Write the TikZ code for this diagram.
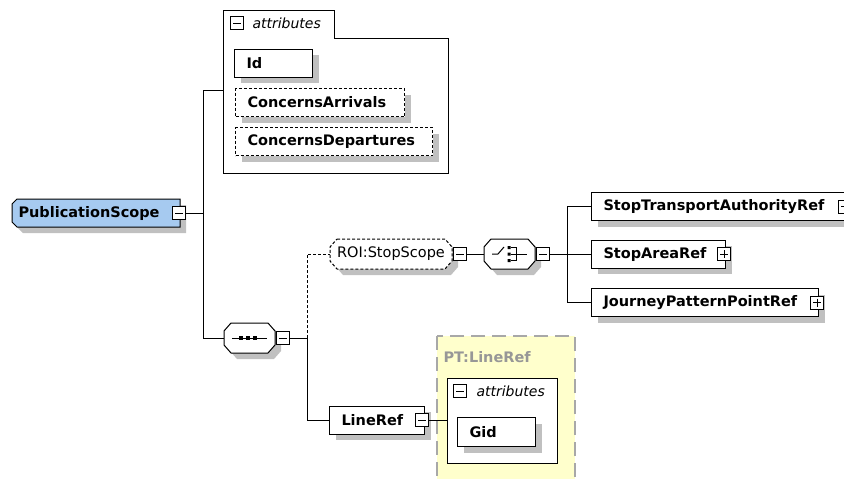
\documentclass[tikz,border=0pt]{standalone}
\usepackage{fontspec}
\setmainfont{DejaVu Sans}
\usetikzlibrary{shadows}
\definecolor{psblue}{HTML}{A6CAF0}
\definecolor{shadowgray}{HTML}{C0C0C0}
\definecolor{refyellow}{HTML}{FFFFCC}
\definecolor{refgray}{HTML}{A8A8A8}
\newcommand\boldlabel{\fontsize{14.5}{16}\selectfont\bfseries}
\newcommand\plainlabel{\fontsize{14.5}{16}\selectfont}
\newcommand\attrlabel{\fontsize{14}{16}\selectfont\itshape}
% octagon outline for compositors and groups: left, top, right, bottom
\newcommand\octpath[4]{(#1+7,#2) -- (#3-7,#2) -- (#3,#2+8) -- (#3,#4-8) -- (#3-7,#4) -- (#1+7,#4) -- (#1,#4-8) -- (#1,#2+8) -- cycle}
\begin{document}
\begin{tikzpicture}[x=1pt,y=-1pt,line width=1pt,
  shadowed/.style={drop shadow={shadow xshift=6pt,shadow yshift=-6pt,fill=shadowgray,opacity=1}},
  elem/.style={draw,fill=white,shadowed,minimum height=28pt,inner xsep=12pt,inner ysep=0pt,
    align=left,font=\boldlabel,anchor=west},
  optelem/.style={elem,dash pattern=on 3pt off 2pt},
  hole/.style={inner sep=0pt,minimum height=30pt},
  toggle/.style={draw,fill=white,minimum size=13pt,inner sep=0pt,line width=0.8pt},
  minusbox/.style={toggle,path picture={\draw[line width=0.8pt]
      ([xshift=2.5pt]path picture bounding box.west) -- ([xshift=-2.5pt]path picture bounding box.east);}},
  plusbox/.style={toggle,path picture={\draw[line width=0.8pt]
      ([xshift=2.5pt]path picture bounding box.west) -- ([xshift=-2.5pt]path picture bounding box.east)
      ([yshift=-2.5pt]path picture bounding box.north) -- ([yshift=2.5pt]path picture bounding box.south);}},
  tick/.style={fill=black}
]
\useasboundingbox (0,0) rectangle (844,479);
\fill[white] (0,0) rectangle (844,479);

% ---- root element ----
\fill[shadowgray,shift={(6,6)}] (17,199) -- (180,199) -- (180,227) -- (17,227) -- (12,222) -- (12,204) -- cycle;
\filldraw[fill=psblue] (17,199) -- (180,199) -- (180,227) -- (17,227) -- (12,222) -- (12,204) -- cycle;
\node[inner xsep=6pt,inner ysep=0pt,minimum height=28pt,text width=156pt,align=left,
  font=\boldlabel,anchor=west] (ps) at (12,213) {PublicationScope};
\node[minusbox] (psT) at (179,213) {};

% ---- attribute group of the root ----
\draw[fill=white] (223,10) -- (334,10) -- (334,38) -- (448,38) -- (448,173) -- (223,173) -- cycle;
\coordinate (attrIn) at (223,90);
\node[minusbox] (attrT) at (237,23) {};
\node[font=\attrlabel,anchor=west,inner sep=0pt] (attrL) at (252,23) {attributes};
\node[elem,text width=54pt] (id) at (234,63) {Id};
\node[optelem,text width=145pt] (ca) at (235,102.5) {ConcernsArrivals};
\node[optelem,text width=173pt] (cd) at (235,141.5) {ConcernsDepartures};

% ---- sequence ----
\fill[shadowgray,shift={(6,6)}] \octpath{224}{323}{275}{353};
\filldraw[fill=white] \octpath{224}{323}{275}{353};
\node[hole,minimum width=51pt] (seq) at (249.5,338) {};
\draw (232,338) -- (267,338);
\foreach \sx in {241,248,255} \fill[tick] (\sx-2,336) rectangle (\sx+2,340);
\node[minusbox] (seqT) at (283,338) {};

% ---- group reference ----
\fill[shadowgray,shift={(6,6)}] \octpath{330}{239}{452}{269};
\filldraw[fill=white,dash pattern=on 3pt off 2pt] \octpath{330}{239}{452}{269};
\node[hole,minimum width=122pt,font=\plainlabel] (roi) at (391,254) {ROI:StopScope};
\node[minusbox] (roiT) at (460,254) {};

% ---- choice ----
\fill[shadowgray,shift={(6,6)}] \octpath{484}{239}{535}{269};
\filldraw[fill=white] \octpath{484}{239}{535}{269};
\node[hole,minimum width=51pt] (choice) at (509.5,254) {};
\draw (492,254) -- (498,254) -- (504,247);
\fill[tick] (507.5,246) rectangle (510.5,249) (507.5,252.5) rectangle (510.5,255.5) (507.5,259) rectangle (510.5,262);
\draw (510.5,247.5) -- (516,247.5) -- (516,260.5) -- (510.5,260.5);
\draw (510.5,254) -- (527,254);
\node[minusbox] (choiceT) at (543,254) {};

% ---- choice members ----
\node[elem,text width=230pt] (star) at (591,206.5) {StopTransportAuthorityRef};
\node[plusbox] (starT) at (845,206.5) {};
\node[elem,text width=110pt] (sar) at (591,254) {StopAreaRef};
\node[plusbox] (sarT) at (724,254) {};
\node[elem,text width=203pt] (jppr) at (591,302.5) {JourneyPatternPointRef};
\node[plusbox] (jpprT) at (817,302.5) {};

% ---- line reference and its type ----
\draw[refgray,line width=1.3pt,dash pattern=on 14pt off 7pt,fill=refyellow] (437,336) rectangle (575,495);
\node[font=\boldlabel,text=refgray!90!black,anchor=west,inner sep=0pt] (ptlabel) at (443,357) {PT:LineRef};
\node[draw,fill=white,minimum width=110pt,minimum height=85pt,anchor=north west,inner sep=0pt] (ptattr) at (447,378) {};
\node[minusbox] (ptattrT) at (460,391) {};
\node[font=\attrlabel,anchor=west,inner sep=0pt] (ptattrL) at (476,391) {attributes};
\node[elem,text width=54pt,minimum height=29pt] (gid) at (457,432) {Gid};

\node[elem,text width=71pt] (lr) at (329,420) {LineRef};
\node[minusbox] (lrT) at (422,420) {};

% ---- connectors ----
\coordinate (trunkTop) at (203,90);
\coordinate (trunkBot) at (203,338);
\draw (psT.east) -- (psT.east -| trunkTop);
\draw (attrIn) -- (trunkTop) -- (trunkBot) -- (seq.west);
\coordinate (seqFork) at (307,338);
\draw (seqT.east) -- (seqFork);
\draw[dash pattern=on 3pt off 2pt] (seqFork) -- (seqFork |- roi.west) -- (roi.west);
\draw (seqFork) -- (seqFork |- lr.west) -- (lr.west);
\draw (roiT.east) -- (choice.west);
\coordinate (chFork) at (567,254);
\draw (choiceT.east) -- (chFork);
\draw (star.west) -- (star.west -| chFork) -- (jppr.west -| chFork) -- (jppr.west);
\draw (chFork) -- (sar.west);
\draw (lrT.east) -- (lrT.east -| ptattr.west);
\end{tikzpicture}
\end{document}
